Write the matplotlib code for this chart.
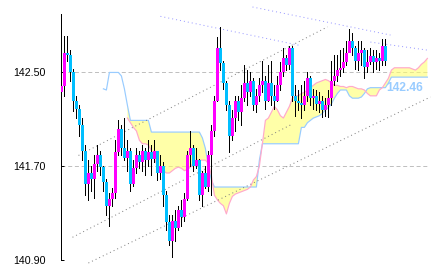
import numpy as np
import matplotlib
matplotlib.use('Agg')
import matplotlib.pyplot as plt

plt.rcParams['font.family'] = ['Liberation Sans', 'DejaVu Sans']
plt.rcParams['hatch.linewidth'] = 0.9

# 蜡烛数据 (开盘 = 上一根收盘)
first_open = 142.33
closes = [142.38, 142.67, 142.65, 142.50, 142.26, 142.19, 142.05, 141.83, 141.55, 141.64,
          141.59, 141.72, 141.79, 141.69, 141.56, 141.36, 141.42, 141.47, 141.82, 142.02,
          141.85, 141.77, 141.83, 141.55, 141.68, 141.79, 141.73, 141.83, 141.75, 141.82,
          141.76, 141.83, 141.64, 141.70, 141.45, 141.22, 141.06, 141.23, 141.17, 141.32,
          141.26, 141.42, 141.79, 141.85, 141.70, 141.75, 141.45, 141.64, 141.52, 141.79,
          142.00, 142.26, 142.71, 142.58, 142.41, 142.22, 141.96, 142.11, 142.26, 142.16,
          142.28, 142.41, 142.33, 142.43, 142.22, 142.30, 142.39, 142.43, 142.26, 142.41,
          142.30, 142.26, 142.39, 142.50, 142.62, 142.56, 142.71, 142.30, 142.26, 142.24,
          142.22, 142.30, 142.45, 142.28, 142.30, 142.23, 142.26, 142.18, 142.22, 142.28,
          142.43, 142.47, 142.52, 142.54, 142.59, 142.67, 142.77, 142.71, 142.60, 142.67,
          142.69, 142.55, 142.59, 142.64, 142.59, 142.62, 142.60, 142.73, 142.60]
highs = [142.41, 142.81, 142.81, 142.69, 142.53, 142.30, 142.22, 142.11, 141.88, 141.75,
         141.70, 141.79, 141.88, 141.83, 141.70, 141.59, 141.47, 141.51, 141.92, 142.09,
         142.05, 142.11, 141.92, 141.85, 141.75, 141.85, 141.83, 141.88, 141.85, 141.92,
         141.88, 141.92, 141.83, 141.79, 141.73, 141.49, 141.28, 141.28, 141.32, 141.36,
         141.41, 141.47, 141.83, 142.00, 141.88, 141.85, 141.76, 141.66, 141.70, 141.83,
         142.05, 142.30, 142.80, 142.89, 142.60, 142.43, 142.26, 142.18, 142.30, 142.30,
         142.39, 142.56, 142.52, 142.50, 142.45, 142.36, 142.45, 142.60, 142.47, 142.56,
         142.60, 142.39, 142.47, 142.59, 142.71, 142.65, 142.73, 142.73, 142.39, 142.35,
         142.39, 142.43, 142.50, 142.47, 142.36, 142.35, 142.33, 142.30, 142.28, 142.35,
         142.60, 142.65, 142.65, 142.69, 142.71, 142.77, 142.87, 142.84, 142.73, 142.77,
         142.77, 142.71, 142.69, 142.71, 142.69, 142.69, 142.67, 142.79, 142.79]
lows = [142.19, 142.30, 142.60, 142.43, 142.17, 142.11, 141.96, 141.75, 141.45, 141.41,
        141.49, 141.43, 141.66, 141.62, 141.49, 141.28, 141.19, 141.36, 141.43, 141.79,
        141.79, 141.75, 141.66, 141.49, 141.53, 141.64, 141.68, 141.66, 141.62, 141.70,
        141.62, 141.73, 141.58, 141.59, 141.36, 141.15, 141.02, 140.92, 141.06, 141.15,
        141.19, 141.23, 141.41, 141.70, 141.66, 141.68, 141.41, 141.36, 141.51, 141.49,
        141.45, 141.96, 142.26, 142.52, 142.36, 142.18, 141.82, 141.92, 142.00, 142.09,
        142.05, 142.26, 142.22, 142.30, 142.18, 142.16, 142.26, 142.33, 142.19, 142.26,
        142.22, 142.19, 142.26, 142.35, 142.47, 142.52, 142.53, 142.26, 142.13, 142.18,
        142.11, 142.18, 142.26, 142.22, 142.19, 142.18, 142.16, 142.12, 142.13, 142.12,
        142.22, 142.39, 142.43, 142.47, 142.50, 142.56, 142.69, 142.65, 142.53, 142.52,
        142.56, 142.45, 142.50, 142.57, 142.50, 142.53, 142.52, 142.56, 142.56]

# 一目均衡表 先行スパン (向前延伸)
span_b = [None] * 14 + [
    142.36, 142.35, 142.50, 142.50, 142.50, 142.50, 142.47, 142.36, 142.22, 142.09,
    142.09, 142.09, 142.09, 142.09, 142.09, 142.09, 141.99, 141.99, 141.99, 141.99,
    141.99, 141.99, 141.99, 141.99, 141.99, 141.99, 141.99, 141.99, 141.99, 141.99,
    141.99, 141.99, 141.99, 141.94, 141.85, 141.70, 141.58, 141.52, 141.52, 141.52,
    141.52, 141.52, 141.52, 141.52, 141.52, 141.52, 141.52, 141.52, 141.52, 141.52,
    141.52, 141.52, 141.75, 141.89, 141.89, 141.89, 141.89, 141.89, 141.89, 141.89,
    141.89, 141.89, 141.89, 141.89, 141.89, 141.89, 142.03, 142.03, 142.07, 142.09,
    142.11, 142.12, 142.13, 142.15, 142.18, 142.20, 142.23, 142.28, 142.32, 142.35,
    142.35, 142.35, 142.30, 142.28, 142.28, 142.28, 142.29, 142.32, 142.36, 142.37,
    142.37, 142.37, 142.37, 142.37, 142.37, 142.41, 142.46, 142.46, 142.46, 142.46,
    142.46, 142.46, 142.46, 142.46, 142.46, 142.46, 142.46, 142.46, 142.46]
span_a = [None] * 22 + [
    142.11, 142.07, 142.03, 142.00, 141.92, 141.89, 141.89, 141.88, 141.83, 141.76,
    141.70, 141.66, 141.66, 141.64, 141.64, 141.66, 141.68, 141.69, 141.68, 141.66,
    141.67, 141.69, 141.73, 141.75, 141.75, 141.75, 141.75, 141.72, 141.62, 141.45,
    141.41, 141.38, 141.36, 141.29, 141.38, 141.44, 141.46, 141.47, 141.48, 141.49,
    141.50, 141.52, 141.58, 141.61, 141.70, 141.89, 142.09, 142.11, 142.16, 142.21,
    142.18, 142.13, 142.11, 142.16, 142.21, 142.28, 142.30, 142.30, 142.32, 142.33,
    142.35, 142.37, 142.39, 142.41, 142.42, 142.43, 142.44, 142.43, 142.41, 142.39,
    142.39, 142.38, 142.38, 142.37, 142.38, 142.38, 142.37, 142.36, 142.36, 142.35,
    142.32, 142.30, 142.30, 142.30, 142.35, 142.37, 142.41, 142.45, 142.52, 142.54,
    142.54, 142.54, 142.54, 142.54, 142.54, 142.53, 142.52, 142.54, 142.57, 142.59,
    142.62]

# 趋势线 (起点索引, 起点价格, 终点索引, 终点价格)
gray_lines = [(5.7, 141.79, 88.7, 142.89),
              (3.7, 141.09, 76.3, 142.05),
              (9.0, 140.87, 123.0, 142.29)]
purple_lines = [(33.0, 142.98, 79.7, 142.73),
                (63.7, 143.06, 109.7, 142.82),
                (103.0, 142.76, 122.3, 142.69)]

yticks = [140.90, 141.70, 142.50]

closes = np.array(closes)
highs = np.array(highs)
lows = np.array(lows)
opens = np.concatenate([[first_open], closes[:-1]])
x = np.arange(len(closes))
sa = np.array(span_a, dtype=float)
sb = np.array(span_b, dtype=float)
xc = np.arange(len(sa))

fig = plt.figure(figsize=(433 / 96, 273 / 96), dpi=96)
ax = fig.add_axes([60.5 / 433, 13.5 / 273, 369.5 / 433, 245.5 / 273])
ax.set_xlim(-0.3, 122.87)
ax.set_ylim(140.90, 143.0)

for yt in yticks:
    ax.axhline(yt, color='#c0c0c0', lw=0.75, ls=(0, (4, 2.7)), zorder=0)

# 云
ax.fill_between(xc, sa, sb, facecolor='none', edgecolor='#ffff70', hatch='|' * 8,
                linewidth=0, zorder=1)
ax.plot(xc, sb, color='#99ccff', lw=0.9, zorder=2)
ax.plot(xc, sa, color='#ffaacc', lw=0.9, zorder=2)

for x0, y0, x1, y1 in gray_lines:
    ax.plot([x0, x1], [y0, y1], color='#808080', lw=0.75, ls=(0, (1, 3)), clip_on=False, zorder=3)
for x0, y0, x1, y1 in purple_lines:
    ax.plot([x0, x1], [y0, y1], color='#9999ff', lw=0.75, ls=(0, (1, 3)), clip_on=False, zorder=3)

# K线
ax.vlines(x, lows, highs, color='black', lw=0.75, zorder=4, antialiased=False)
up = closes >= opens
colors = np.where(up, '#ff00ff', '#00bfff')
bottoms = np.minimum(opens, closes)
heights = np.maximum(np.abs(closes - opens), 0.008)
ax.bar(x, heights, bottom=bottoms, width=0.85, color=colors, linewidth=0, zorder=5,
       antialiased=False)

ax.text(120.7, 142.37, f'{sb[-1]:.2f}', color='#99ccff', fontsize=9, fontweight='bold',
        ha='right', va='center', zorder=6)

for s in ['top', 'right', 'bottom']:
    ax.spines[s].set_visible(False)
ax.spines['left'].set_linewidth(0.75)
ax.set_yticks(yticks)
ax.set_yticklabels([f'{v:.2f}' for v in yticks])
ax.tick_params(axis='y', direction='in', length=2.5, width=0.75, pad=11, labelsize=8)
ax.set_xticks([])

fig.savefig('out.png', dpi=96)
